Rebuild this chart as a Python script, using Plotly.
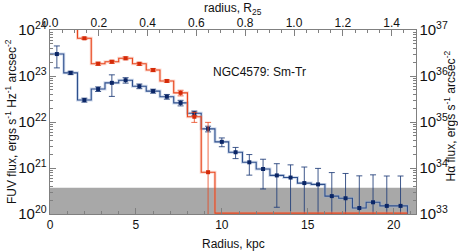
import plotly.graph_objects as go

# ---------------- data ----------------
radius_kpc = [0.4, 1.2, 2.0, 2.8, 3.6, 4.4, 5.2, 6.0, 6.8, 7.6, 8.4, 9.2, 10.0,
              10.8, 11.6, 12.4, 13.2, 14.0, 14.8, 15.6, 16.4, 17.2, 18.0, 18.8,
              19.6, 20.4]
fuv_flux = [3.0e23, 1.17e23, 3.0e22, 5.2e22, 7.1e22, 8.1e22, 6.0e22, 4.7e22,
            3.55e22, 2.6e22, 1.55e22, 7.1e21, 3.7e21, 2.2e21, 1.33e21, 9.5e20,
            6.9e20, 6.2e20, 4.7e20, 4.4e20, 2.45e20, 2.2e20, 1.35e20, 1.8e20,
            1.5e20, 1.5e20]
fuv_err = [1.5e23, 1.0e22, 3e21, 6e21, 3.5e22, 1.1e22, 7e21, 4.7e21, 4.2e21,
           3.6e21, 1.8e21, 1.0e21, 0.8e21, 0.6e21, 0.63e21, 6e20, 5.5e20,
           5.5e20, 5.8e20, 5.4e20, 5.5e20, 5.4e20, 5.4e20, 5.3e20, 5.2e20,
           5.2e20]
# H-alpha (0 = not detected)
halpha_flux = [3.0e37, 1.5e37, 6.6e36, 1.85e36, 2.04e36, 2.43e36, 1.84e36,
               1.35e36, 7.8e35, 4.3e35, 1.3e35, 8.1e33, 0, 0, 0, 0, 0, 0, 0,
               0, 0, 0, 0, 0, 0, 0]
halpha_err = [3e36, 1.5e36, 4.0e35, 1.5e35, 1.6e35, 1.8e35, 1.5e35, 1.1e35,
              5e34, 6e34, 3.2e34, 9.0e34, 0, 0, 0, 0, 0, 0, 0, 0, 0, 0, 0, 0,
              0, 0]
sky_level_fuv = 3.7e20      # grey band: background level
r25_kpc = 14.2              # R25 in kpc
galaxy_label = "NGC4579: Sm-Tr"
fuv_title = "FUV flux, ergs s<sup>-1</sup> Hz<sup>-1</sup> arcsec<sup>-2</sup>"
ha_title = "Hα flux, ergs s<sup>-1</sup> arcsec<sup>-2</sup>"

x_range = [0, 21.3]
fuv_range_log = [20, 24]
ha_range_log = [33, 37]

# ---------------- helpers ----------------
bin_w = radius_kpc[1] - radius_kpc[0]


def steps(r, v, floor):
    xs, ys = [], []
    for ri, vi in zip(r, v):
        val = vi if vi > 0 else floor
        xs += [ri - bin_w / 2, ri + bin_w / 2]
        ys += [val, val]
    # drop off beyond the last bin
    xs.append(r[-1] + bin_w / 2)
    ys.append(floor * 1e-3)
    return xs, ys


blue_line = "#2e4f8c"
blue_halo = "rgba(150,175,215,0.45)"
blue_mark = "#0b2666"
red_line = "#e8461e"
red_halo = "rgba(245,150,120,0.35)"
red_mark = "#d42a08"

fig = go.Figure()

# FUV step line
bx, by = steps(radius_kpc, fuv_flux, 10.0 ** fuv_range_log[0])
fig.add_trace(go.Scatter(x=bx, y=by, mode="lines", line=dict(color=blue_halo, width=3),
                         hoverinfo="skip", showlegend=False))
fig.add_trace(go.Scatter(x=bx, y=by, mode="lines", line=dict(color=blue_line, width=1.1),
                         showlegend=False))

# H-alpha step line (undetected bins sit on the axis floor)
ha_floor = 10.0 ** (ha_range_log[0] + 0.02)
rx, ry = steps(radius_kpc, halpha_flux, ha_floor)
rx, ry = rx[:-1], ry[:-1]
fig.add_trace(go.Scatter(x=rx, y=ry, yaxis="y2", mode="lines",
                         line=dict(color=red_halo, width=3), hoverinfo="skip",
                         showlegend=False))
fig.add_trace(go.Scatter(x=rx, y=ry, yaxis="y2", mode="lines",
                         line=dict(color=red_line, width=1.1), showlegend=False))

# H-alpha points
det = [i for i, v in enumerate(halpha_flux) if v > 0]
fig.add_trace(go.Scatter(
    x=[radius_kpc[i] for i in det], y=[halpha_flux[i] for i in det], yaxis="y2",
    mode="markers", marker=dict(symbol="square", size=4, color=red_mark),
    error_y=dict(type="data", array=[halpha_err[i] for i in det],
                 color="rgba(232,70,30,0.8)", thickness=1, width=3),
    showlegend=False))

# FUV points
fig.add_trace(go.Scatter(
    x=radius_kpc, y=fuv_flux, mode="markers",
    marker=dict(symbol="square", size=4, color=blue_mark),
    error_y=dict(type="data", array=fuv_err, color="rgba(30,60,120,0.85)",
                 thickness=1, width=3),
    showlegend=False))

# R25 top axis helper (invisible)
fig.add_trace(go.Scatter(x=[r / r25_kpc for r in radius_kpc], y=fuv_flux,
                         xaxis="x2", mode="markers", marker=dict(opacity=0),
                         hoverinfo="skip", showlegend=False))

# grey background band
fig.add_shape(type="rect", xref="paper", x0=0, x1=1, yref="y",
              y0=10.0 ** fuv_range_log[0], y1=sky_level_fuv,
              fillcolor="#a8a8a8", line=dict(width=0), layer="below")

fig.add_annotation(text=galaxy_label, xref="paper", yref="paper", x=0.705, y=0.82,
                   showarrow=False, font=dict(size=12, color="#111"))
# axis titles
fig.add_annotation(text=fuv_title, xref="paper", yref="paper", x=0, y=0.5,
                   xanchor="center", yanchor="middle", xshift=-39, textangle=-90,
                   showarrow=False, font=dict(size=12, color="#111"))
fig.add_annotation(text=ha_title, xref="paper", yref="paper", x=1, y=0.53,
                   xanchor="center", yanchor="middle", xshift=34, textangle=-90,
                   showarrow=False, font=dict(size=12, color="#111"))
fig.add_annotation(text="Radius, kpc", xref="paper", yref="paper", x=0.5, y=0,
                   xanchor="center", yanchor="middle", yshift=-30,
                   showarrow=False, font=dict(size=12, color="#111"))
fig.add_annotation(text="radius, R<sub>25</sub>", xref="paper", yref="paper", x=0.5,
                   y=1, xanchor="center", yanchor="middle", yshift=21,
                   showarrow=False, font=dict(size=12, color="#111"))

font = dict(family="Liberation Sans, Arial, sans-serif", size=12, color="#111")
axcol = "#808080"
common = dict(showline=True, linecolor=axcol, linewidth=1, ticks="inside",
              tickcolor=axcol, showgrid=False, zeroline=False, mirror=False,
              automargin=False, tickfont=dict(size=12, color="#111"))

fig.update_layout(
    width=458, height=252,
    margin=dict(l=50, r=42, t=30, b=38, autoexpand=False),
    paper_bgcolor="white", plot_bgcolor="white",
    font=font,
    xaxis=dict(range=x_range, dtick=5, ticklen=6,
               minor=dict(dtick=1, ticks="inside", ticklen=3, tickcolor=axcol),
               **common),
    xaxis2=dict(range=[x_range[0] / r25_kpc, x_range[1] / r25_kpc], overlaying="x",
                side="top", anchor="y", dtick=0.2, tickformat=".1f", ticklen=6,
                ticklabelstandoff=-3,
                minor=dict(dtick=0.05, ticks="inside", ticklen=3, tickcolor=axcol),
                **common),
    yaxis=dict(type="log", range=fuv_range_log, dtick=1, exponentformat="power",
               ticklen=6,
               minor=dict(ticks="inside", ticklen=3, tickcolor=axcol),
               **common),
    yaxis2=dict(type="log", range=ha_range_log, dtick=1, exponentformat="power",
                overlaying="y", side="right", anchor="x", ticklen=6,
                minor=dict(ticks="inside", ticklen=3, tickcolor=axcol),
                **common),
)

fig.write_html("out.html", config={"displayModeBar": False},
               post_script="document.body.style.margin='0px';"
                           "document.body.style.overflow='hidden';")
